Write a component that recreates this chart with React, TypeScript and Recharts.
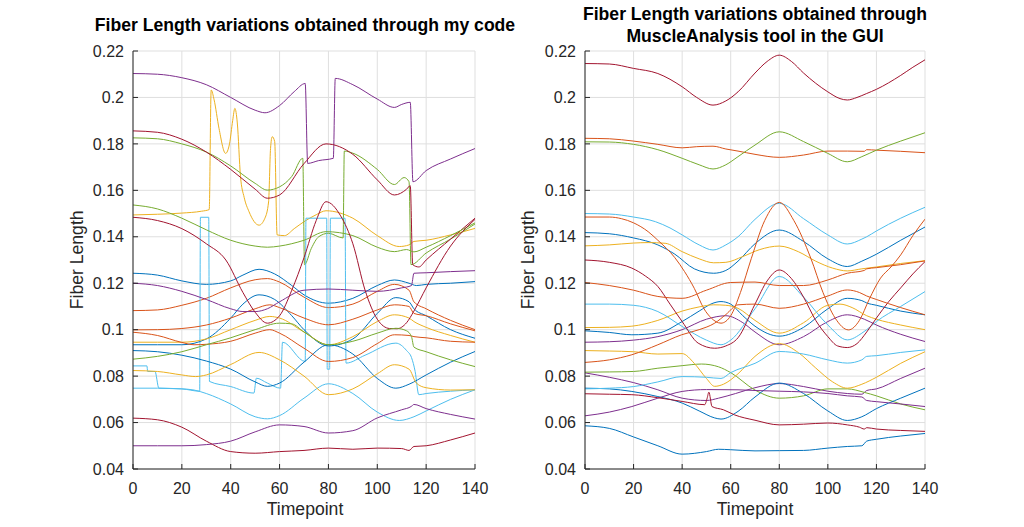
import React from 'react';
import { LineChart, Line, XAxis, YAxis, CartesianGrid } from 'recharts';

// MATLAB default line colours
const BLUE = '#0072BD';
const ORANGE = '#D95319';
const YELLOW = '#EDB120';
const PURPLE = '#7E2F8E';
const GREEN = '#77AC30';
const LBLUE = '#4DBEEE';
const DRED = '#A2142F';

const X_TICKS = [0, 20, 40, 60, 80, 100, 120, 140];
const Y_TICKS = [0.04, 0.06, 0.08, 0.1, 0.12, 0.14, 0.16, 0.18, 0.2, 0.22];

// ---- left panel: "my code"  ([timepoint, fiber length]) ----
const L_PURPLE_TOP = [[0, 0.2103], [10, 0.21], [20, 0.2085], [30, 0.2055], [40, 0.2], [50, 0.1945], [54, 0.1934], [60, 0.1965], [66, 0.2025], [70.5, 0.206], [71.5, 0.1716], [76, 0.1728], [82, 0.1738], [82.8, 0.2082], [90, 0.2055], [100, 0.1993], [107, 0.1957], [110, 0.197], [113.5, 0.1979], [114.6, 0.1637], [120, 0.1685], [130, 0.1735], [140, 0.178]];
const L_DRED_TOP = [[0, 0.1856], [10, 0.185], [20, 0.182], [30, 0.1765], [40, 0.169], [50, 0.1605], [55, 0.1566], [60, 0.158], [70, 0.1715], [79, 0.18], [90, 0.1755], [100, 0.1645], [107, 0.158], [112, 0.1605], [113.5, 0.162], [114.5, 0.128], [117, 0.127], [120, 0.13], [130, 0.139], [140, 0.148]];
const L_GREEN_TOP = [[0, 0.1826], [10, 0.1822], [20, 0.18], [30, 0.1765], [40, 0.1705], [50, 0.163], [55, 0.1601], [60, 0.1615], [65, 0.166], [69.5, 0.1738], [70.2, 0.128], [73, 0.135], [76, 0.14], [80, 0.1415], [86, 0.1395], [86.5, 0.1769], [90, 0.176], [100, 0.169], [107, 0.1625], [111, 0.1655], [113, 0.1637], [113.8, 0.128], [120, 0.133], [130, 0.139], [140, 0.1455]];
const L_GREEN_MID = [[0, 0.1537], [10, 0.152], [20, 0.148], [30, 0.143], [40, 0.1385], [50, 0.136], [55, 0.1355], [60, 0.136], [70, 0.1385], [79, 0.1422], [90, 0.1405], [100, 0.1355], [107, 0.1336], [112, 0.1345], [115, 0.1335], [120, 0.1355], [130, 0.1405], [140, 0.146]];
const L_YELLOW_SPIKE = [[0, 0.1494], [10, 0.1497], [20, 0.1502], [28, 0.151], [31.2, 0.1517], [32, 0.2032], [33.2, 0.199], [35.2, 0.1867], [37.9, 0.1759], [39.5, 0.18], [40.8, 0.19], [41.7, 0.1953], [42.7, 0.189], [44, 0.166], [45.5, 0.157], [47.5, 0.1508], [51.6, 0.145], [54, 0.148], [55.5, 0.155], [56.3, 0.178], [57, 0.1831], [58, 0.181], [59, 0.1408], [62, 0.1405], [66, 0.1435], [70, 0.1465], [75, 0.1495], [79, 0.1512], [90, 0.148], [100, 0.1405], [109, 0.1358], [113, 0.1365], [115, 0.138], [120, 0.1385], [130, 0.1408], [140, 0.1436]];
const L_DRED_W = [[0, 0.1484], [10, 0.147], [20, 0.1435], [30, 0.137], [38, 0.13], [45, 0.116], [50, 0.1075], [55, 0.1028], [60, 0.106], [65, 0.117], [70, 0.131], [75, 0.147], [79, 0.1551], [85, 0.149], [90, 0.137], [95, 0.117], [100, 0.1045], [105, 0.1005], [108, 0.1004], [112, 0.103], [115, 0.108], [120, 0.118], [130, 0.136], [140, 0.1475]];
const L_BLUE_A = [[0, 0.1243], [10, 0.1235], [20, 0.121], [30, 0.1195], [40, 0.121], [45, 0.1235], [51.6, 0.126], [58, 0.124], [65, 0.119], [70, 0.115], [80, 0.1114], [90, 0.1135], [100, 0.119], [107, 0.1214], [113, 0.12], [116, 0.119], [120, 0.1195], [130, 0.12], [140, 0.1207]];
const L_PURPLE_B = [[0, 0.12], [10, 0.119], [20, 0.1165], [30, 0.113], [40, 0.109], [45, 0.1078], [50, 0.1078], [55, 0.109], [60, 0.112], [70, 0.117], [80, 0.1175], [90, 0.117], [100, 0.1165], [110, 0.118], [114, 0.119], [115, 0.1243], [120, 0.1245], [130, 0.125], [140, 0.1254]];
const L_ORANGE_C = [[0, 0.1082], [10, 0.1085], [20, 0.1105], [30, 0.1135], [40, 0.118], [50, 0.1215], [55, 0.122], [60, 0.1205], [70, 0.114], [80, 0.1095], [90, 0.111], [100, 0.1165], [107, 0.1195], [113, 0.117], [115, 0.112], [120, 0.109], [130, 0.104], [140, 0.1]];
const L_ORANGE_D = [[0, 0.0999], [10, 0.1], [20, 0.1005], [30, 0.102], [40, 0.105], [50, 0.109], [56, 0.1107], [60, 0.1095], [70, 0.105], [80, 0.1021], [90, 0.1045], [100, 0.1085], [107, 0.1107], [113, 0.11], [115, 0.107], [120, 0.106], [130, 0.1025], [140, 0.0995]];
const L_ORANGE_E = [[0, 0.0989], [10, 0.0975], [20, 0.0945], [25, 0.0935], [30, 0.0937], [40, 0.095], [50, 0.0985], [56, 0.1], [60, 0.0985], [70, 0.092], [80, 0.0863], [90, 0.088], [100, 0.094], [107, 0.0978], [113, 0.0975], [115, 0.097], [120, 0.0965], [130, 0.095], [140, 0.0946]];
const L_YELLOW_F = [[0, 0.0946], [10, 0.0946], [20, 0.0946], [30, 0.096], [40, 0.1], [50, 0.104], [56, 0.1057], [60, 0.105], [70, 0.099], [80, 0.0935], [90, 0.097], [100, 0.1035], [107, 0.1064], [113, 0.105], [115, 0.1035], [120, 0.101], [130, 0.0975], [140, 0.0946]];
const L_BLUE_G = [[0, 0.0935], [10, 0.0935], [20, 0.0935], [30, 0.096], [40, 0.105], [45, 0.111], [51.6, 0.115], [58, 0.113], [65, 0.106], [70, 0.1], [80, 0.093], [90, 0.096], [100, 0.107], [107.6, 0.1138], [113, 0.112], [115, 0.109], [120, 0.106], [130, 0.1], [140, 0.0963]];
const L_BLUE_H = [[0, 0.091], [10, 0.0905], [20, 0.089], [30, 0.0865], [40, 0.083], [50, 0.0775], [55, 0.0756], [60, 0.077], [70, 0.086], [80, 0.0935], [90, 0.0895], [100, 0.079], [107.6, 0.0748], [113, 0.0765], [120, 0.0805], [130, 0.086], [140, 0.0906]];
const L_GREEN_I = [[0, 0.0873], [10, 0.0885], [20, 0.0905], [30, 0.0935], [40, 0.0965], [50, 0.1], [60, 0.1028], [65, 0.1025], [70, 0.099], [80, 0.0935], [90, 0.095], [100, 0.0985], [107.6, 0.1006], [112, 0.0995], [114, 0.097], [115, 0.0925], [120, 0.0905], [130, 0.087], [140, 0.0841]];
const L_YELLOW_K = [[0, 0.0824], [10, 0.082], [20, 0.0805], [25.6, 0.0798], [30, 0.0805], [40, 0.085], [51.6, 0.0902], [60, 0.087], [70, 0.08], [80, 0.072], [90, 0.0745], [100, 0.081], [107, 0.0849], [113, 0.083], [116, 0.077], [120, 0.075], [130, 0.074], [140, 0.0741]];
const L_LBLUE_STEP = [[0, 0.0844], [5.7, 0.0844], [6, 0.082], [9, 0.082], [10.6, 0.0748], [20, 0.0745], [27.3, 0.0735], [27.6, 0.1484], [31, 0.1484], [31.3, 0.0777], [40, 0.0755], [49.5, 0.0727], [50.5, 0.0791], [55, 0.077], [60.4, 0.0748], [61.2, 0.0946], [70.5, 0.0863], [70.8, 0.148], [79.3, 0.148], [79.5, 0.083], [80.5, 0.083], [80.8, 0.148], [86.8, 0.148], [87.2, 0.0856], [95, 0.089], [107.6, 0.0942], [112, 0.091], [114, 0.088], [115.5, 0.082], [117, 0.072], [120, 0.0725], [130, 0.0735], [140, 0.0741]];
const L_LBLUE_L = [[0, 0.0748], [10, 0.0748], [20, 0.0745], [25, 0.074], [30, 0.0725], [40, 0.068], [50, 0.0625], [55, 0.0616], [60, 0.063], [70, 0.0705], [80, 0.0767], [90, 0.0725], [100, 0.0645], [109, 0.0609], [115, 0.0625], [120, 0.065], [130, 0.07], [140, 0.0741]];
const L_PURPLE_N = [[0, 0.05], [10, 0.05], [20, 0.05], [30, 0.0505], [40, 0.052], [50, 0.056], [60, 0.059], [70, 0.0583], [80, 0.0555], [90, 0.0565], [100, 0.062], [110, 0.0655], [114, 0.067], [115, 0.0678], [120, 0.066], [130, 0.0635], [140, 0.0615]];
const L_DRED_M = [[0, 0.0619], [10, 0.0612], [20, 0.058], [30, 0.052], [40, 0.0475], [50, 0.0468], [60, 0.0475], [70, 0.048], [80, 0.049], [90, 0.0485], [100, 0.049], [110, 0.0488], [113, 0.048], [115, 0.0497], [120, 0.05], [130, 0.0525], [140, 0.0555]];

// ---- right panel: MuscleAnalysis tool ----
const R_DRED_TOP = [[0, 0.2146], [10, 0.2144], [20, 0.2125], [30, 0.2103], [40, 0.2046], [46, 0.2], [52.7, 0.1967], [58, 0.1985], [63, 0.2024], [70, 0.2105], [75, 0.2155], [80, 0.2182], [85, 0.2155], [90, 0.2105], [100, 0.2024], [105, 0.1995], [108, 0.1989], [112, 0.2], [116, 0.2017], [120, 0.2035], [130, 0.2095], [135, 0.213], [140, 0.2162]];
const R_ORANGE_TOP = [[0, 0.1824], [10, 0.1822], [20, 0.1812], [30, 0.1798], [40, 0.1783], [46, 0.1788], [52.7, 0.179], [58, 0.1778], [63, 0.1769], [70, 0.1755], [80, 0.1742], [90, 0.1752], [100, 0.1769], [108, 0.1769], [115, 0.1768], [116, 0.1775], [120, 0.1773], [130, 0.1768], [140, 0.1762]];
const R_GREEN_TOP = [[0, 0.1809], [10, 0.1808], [20, 0.1798], [30, 0.1775], [40, 0.1738], [47, 0.171], [52.7, 0.1692], [58, 0.171], [63, 0.1745], [70, 0.1795], [80, 0.1852], [90, 0.181], [100, 0.1759], [108, 0.1723], [114, 0.1745], [120, 0.1773], [130, 0.1812], [140, 0.1848]];
const R_LBLUE_TOP = [[0, 0.15], [10, 0.1498], [20, 0.1485], [29, 0.1465], [35, 0.1438], [40, 0.1408], [47, 0.1365], [52.7, 0.1343], [58, 0.1365], [63, 0.14], [70, 0.1475], [80, 0.1544], [90, 0.1478], [100, 0.1408], [108, 0.1369], [114, 0.139], [116, 0.14], [120, 0.1425], [130, 0.148], [140, 0.1527]];
const R_ORANGE_BIG = [[0, 0.1485], [10, 0.1485], [15, 0.1478], [20, 0.146], [26, 0.1422], [30, 0.1385], [37, 0.131], [41, 0.125], [45, 0.1178], [49, 0.109], [52, 0.105], [56, 0.1028], [60, 0.106], [64, 0.116], [68.5, 0.1307], [74, 0.147], [80, 0.1548], [86, 0.147], [93, 0.1307], [98, 0.116], [103, 0.105], [108.5, 0.0999], [113, 0.104], [117, 0.113], [121.7, 0.1222], [126, 0.127], [130, 0.1322], [135, 0.1405], [140, 0.1476]];
const R_BLUE_TOP = [[0, 0.1418], [10, 0.1413], [20, 0.1395], [30, 0.1365], [37, 0.1325], [45, 0.1262], [53, 0.1243], [58, 0.1255], [63, 0.1295], [70, 0.137], [80, 0.1429], [90, 0.138], [100, 0.1305], [108, 0.1272], [114, 0.1295], [120, 0.1325], [130, 0.1385], [140, 0.1442]];
const R_YELLOW_TOP = [[0, 0.1361], [10, 0.1365], [20, 0.1373], [26, 0.1375], [33, 0.1372], [40, 0.1336], [47, 0.1305], [53, 0.1288], [58, 0.129], [65, 0.1315], [72, 0.1345], [80, 0.136], [88, 0.1335], [95, 0.1295], [102, 0.1265], [108, 0.1253], [114, 0.1262], [120, 0.127], [130, 0.1285], [140, 0.1297]];
const R_DRED_MID = [[0, 0.13], [10, 0.129], [19.3, 0.1265], [25, 0.123], [30, 0.1186], [35, 0.111], [40, 0.1035], [46.6, 0.0942], [53.4, 0.092], [58, 0.093], [63, 0.0965], [70, 0.111], [75, 0.121], [80, 0.1257], [85, 0.122], [90, 0.114], [95, 0.104], [100, 0.097], [104, 0.093], [108, 0.0923], [112, 0.094], [116, 0.099], [120, 0.105], [125, 0.112], [130, 0.118], [135, 0.124], [140, 0.1293]];
const R_ORANGE_MID = [[0, 0.1203], [10, 0.119], [20, 0.117], [30, 0.1143], [40, 0.1135], [50, 0.117], [60, 0.1203], [70, 0.1205], [80, 0.119], [90, 0.119], [100, 0.1214], [108, 0.1243], [115, 0.1255], [116, 0.1262], [120, 0.1267], [130, 0.128], [140, 0.1296]];
const R_LBLUE_MID = [[0, 0.111], [10, 0.111], [20, 0.1105], [30, 0.1078], [40, 0.1014], [50, 0.0955], [56, 0.0935], [60, 0.0955], [70, 0.109], [80, 0.1229], [90, 0.114], [100, 0.102], [108, 0.0956], [114, 0.0985], [116, 0.1], [120, 0.1035], [130, 0.11], [140, 0.1164]];
const R_YELLOW_MID = [[0, 0.1009], [10, 0.101], [19.3, 0.1015], [30, 0.104], [40, 0.108], [47, 0.1098], [53, 0.1107], [58, 0.1105], [63, 0.1092], [70, 0.104], [80, 0.0985], [90, 0.103], [100, 0.1105], [105, 0.111], [110, 0.1095], [116, 0.106], [120, 0.1045], [130, 0.102], [140, 0.1]];
const R_ORANGE_LOW = [[0, 0.0859], [10, 0.087], [19.3, 0.0892], [30, 0.0935], [39.8, 0.0978], [47, 0.1], [53.4, 0.1028], [58, 0.1065], [63, 0.1107], [70, 0.111], [80, 0.1092], [90, 0.111], [100, 0.1145], [108, 0.1171], [113, 0.116], [116, 0.1145], [120, 0.113], [130, 0.1095], [140, 0.1064]];
const R_BLUE_MID = [[0, 0.0995], [10, 0.0988], [19.3, 0.0978], [30, 0.0985], [40, 0.1035], [47, 0.108], [52.7, 0.1114], [56, 0.1121], [60, 0.111], [65, 0.106], [70, 0.1015], [80, 0.0972], [90, 0.101], [100, 0.109], [108, 0.1135], [114, 0.1125], [116, 0.1115], [120, 0.1105], [130, 0.108], [140, 0.1064]];
const R_PURPLE_MID = [[0, 0.0946], [10, 0.0948], [20, 0.0955], [30, 0.097], [40, 0.1], [50, 0.1045], [58, 0.106], [65, 0.103], [70, 0.099], [80, 0.0935], [90, 0.097], [100, 0.1035], [108, 0.1064], [115, 0.1045], [120, 0.102], [130, 0.098], [140, 0.0949]];
const R_YELLOW_LOW = [[0, 0.091], [10, 0.0908], [20, 0.0905], [30, 0.0895], [40, 0.0897], [45, 0.0855], [50, 0.079], [53.4, 0.0756], [57, 0.0765], [63, 0.081], [70, 0.0885], [80, 0.094], [88, 0.09], [95, 0.0835], [102, 0.0775], [108, 0.0748], [114, 0.0765], [120, 0.0795], [130, 0.0855], [140, 0.0905]];
const R_GREEN_LOW = [[0, 0.0817], [10, 0.0818], [20, 0.082], [30, 0.0834], [40, 0.0845], [48, 0.0852], [55, 0.084], [60, 0.0815], [70, 0.074], [80, 0.0705], [90, 0.0715], [100, 0.0745], [108, 0.0745], [115, 0.073], [120, 0.0715], [130, 0.068], [140, 0.0655]];
const R_PURPLE_LOW = [[0, 0.0814], [10, 0.0795], [20, 0.0772], [30, 0.0741], [40, 0.0705], [50, 0.0695], [55, 0.0705], [62, 0.0725], [70, 0.075], [80, 0.0768], [90, 0.0755], [100, 0.0735], [108, 0.0725], [114, 0.0722], [116, 0.0738], [120, 0.0745], [130, 0.079], [140, 0.0834]];
const R_LBLUE_LOW = [[0, 0.0745], [10, 0.0748], [20, 0.0755], [30, 0.0775], [40, 0.0798], [50, 0.0795], [56, 0.079], [60, 0.0815], [70, 0.0855], [80, 0.0906], [90, 0.0895], [100, 0.087], [108, 0.0856], [114, 0.087], [116, 0.0885], [120, 0.0888], [130, 0.0902], [140, 0.0913]];
const R_BLUE_LOW = [[0, 0.0748], [10, 0.0745], [19.3, 0.0734], [30, 0.0712], [40, 0.0684], [47, 0.065], [53.4, 0.062], [56, 0.0615], [63, 0.0648], [70, 0.071], [80, 0.077], [90, 0.0725], [100, 0.065], [108, 0.0609], [114, 0.0625], [120, 0.066], [130, 0.0705], [140, 0.0748]];
const R_DRED_SPIKE = [[0, 0.0724], [10, 0.0722], [19.3, 0.072], [30, 0.0707], [40, 0.0691], [49.3, 0.0677], [50.3, 0.0705], [51, 0.0731], [52.3, 0.0669], [57, 0.0655], [61.6, 0.0633], [70, 0.061], [80, 0.059], [90, 0.0593], [100, 0.0598], [108, 0.059], [113, 0.058], [115, 0.0572], [116, 0.0578], [120, 0.0572], [130, 0.0566], [140, 0.0562]];
const R_PURPLE_BOT = [[0, 0.0629], [10, 0.0645], [19.3, 0.0669], [30, 0.0705], [40, 0.0734], [50, 0.0742], [63, 0.0741], [70, 0.0738], [80, 0.0735], [90, 0.0732], [100, 0.0725], [108, 0.0715], [114, 0.071], [116, 0.0695], [120, 0.069], [130, 0.068], [140, 0.0669]];
const R_BLUE_BOT = [[0, 0.0586], [10, 0.0575], [20, 0.0538], [30, 0.05], [40, 0.0464], [50, 0.0475], [55, 0.0485], [60, 0.0483], [70, 0.0478], [80, 0.0479], [90, 0.048], [100, 0.049], [108, 0.0497], [114, 0.05], [116, 0.052], [120, 0.0528], [130, 0.0542], [140, 0.0553]];

const LEFT = [
  { d: L_BLUE_A, c: BLUE }, { d: L_ORANGE_C, c: ORANGE }, { d: L_YELLOW_SPIKE, c: YELLOW },
  { d: L_PURPLE_TOP, c: PURPLE }, { d: L_GREEN_TOP, c: GREEN }, { d: L_LBLUE_STEP, c: LBLUE },
  { d: L_DRED_TOP, c: DRED }, { d: L_BLUE_G, c: BLUE }, { d: L_ORANGE_D, c: ORANGE },
  { d: L_YELLOW_F, c: YELLOW }, { d: L_PURPLE_B, c: PURPLE }, { d: L_GREEN_MID, c: GREEN },
  { d: L_LBLUE_L, c: LBLUE }, { d: L_DRED_W, c: DRED }, { d: L_BLUE_H, c: BLUE },
  { d: L_ORANGE_E, c: ORANGE }, { d: L_YELLOW_K, c: YELLOW }, { d: L_PURPLE_N, c: PURPLE },
  { d: L_GREEN_I, c: GREEN }, { d: L_DRED_M, c: DRED },
];

const RIGHT = [
  { d: R_BLUE_TOP, c: BLUE }, { d: R_ORANGE_TOP, c: ORANGE }, { d: R_YELLOW_TOP, c: YELLOW },
  { d: R_PURPLE_MID, c: PURPLE }, { d: R_GREEN_TOP, c: GREEN }, { d: R_LBLUE_TOP, c: LBLUE },
  { d: R_DRED_TOP, c: DRED }, { d: R_BLUE_MID, c: BLUE }, { d: R_ORANGE_BIG, c: ORANGE },
  { d: R_YELLOW_MID, c: YELLOW }, { d: R_PURPLE_LOW, c: PURPLE }, { d: R_GREEN_LOW, c: GREEN },
  { d: R_LBLUE_MID, c: LBLUE }, { d: R_DRED_MID, c: DRED }, { d: R_BLUE_LOW, c: BLUE },
  { d: R_ORANGE_MID, c: ORANGE }, { d: R_YELLOW_LOW, c: YELLOW }, { d: R_PURPLE_BOT, c: PURPLE },
  { d: R_LBLUE_LOW, c: LBLUE }, { d: R_DRED_SPIKE, c: DRED }, { d: R_BLUE_BOT, c: BLUE },
  { d: R_ORANGE_LOW, c: ORANGE },
];

const FONT = '"Liberation Sans", Arial, Helvetica, sans-serif';
const INK = '#262626';
const tickStyle = { fill: INK, fontSize: 16, fontFamily: FONT };
const fmtY = (v: number) => String(Number(v.toFixed(2)));
const blank = () => '';

const Panel = ({ series, width, yWidth }: { series: { d: number[][]; c: string }[]; width: number; yWidth: number }) => (
  <LineChart width={width} height={527} margin={{ top: 51, right: 25, bottom: 0, left: 0 }}>
    <CartesianGrid xAxisId="b" yAxisId="l" stroke="#dfdfdf" strokeWidth={1} />
    <XAxis xAxisId="b" dataKey="t" type="number" domain={[0, 140]} ticks={X_TICKS} height={58}
      tickSize={-5} tickMargin={19} stroke={INK} tick={tickStyle} allowDataOverflow />
    <XAxis xAxisId="top" orientation="top" dataKey="t" type="number" domain={[0, 140]} ticks={X_TICKS}
      height={0} tickSize={-5} stroke={INK} tickFormatter={blank} />
    <YAxis yAxisId="l" type="number" domain={[0.04, 0.22]} ticks={Y_TICKS} width={yWidth}
      tickSize={-5} tickMargin={14} stroke={INK} tick={tickStyle} tickFormatter={fmtY} allowDataOverflow />
    <YAxis yAxisId="r" orientation="right" type="number" domain={[0.04, 0.22]} ticks={Y_TICKS}
      width={0} tickSize={-5} stroke={INK} tickFormatter={blank} />
    {series.map((s, i) => (
      <Line key={i} xAxisId="b" yAxisId="l" data={s.d.map(([t, v]) => ({ t, v }))} dataKey="v"
        type="monotone" stroke={s.c} strokeWidth={1} dot={false} activeDot={false} isAnimationActive={false} />
    ))}
  </LineChart>
);

const txt: React.CSSProperties = { position: 'absolute', fontFamily: FONT, color: INK, fontSize: 17.6, lineHeight: '21.6px', whiteSpace: 'nowrap', textAlign: 'center' };

export default function App() {
  return (
    <div style={{ position: 'absolute', left: 0, top: 0, width: 1024, height: 527, background: '#fff', overflow: 'hidden' }}>
      <div style={{ position: 'absolute', left: 0, top: 0 }}>
        <Panel series={LEFT} width={500} yWidth={133} />
      </div>
      <div style={{ position: 'absolute', left: 500, top: 0 }}>
        <Panel series={RIGHT} width={450} yWidth={85} />
      </div>
      <div style={{ ...txt, fontWeight: 'bold', color: '#000', left: 55, width: 500, top: 15 }}>
        Fiber Length variations obtained through my code
      </div>
      <div style={{ ...txt, fontWeight: 'bold', color: '#000', left: 505, width: 500, top: 4 }}>
        Fiber Length variations obtained through<br />MuscleAnalysis tool in the GUI
      </div>
      <div style={{ ...txt, left: 205, width: 200, top: 499 }}>Timepoint</div>
      <div style={{ ...txt, left: 655, width: 200, top: 499 }}>Timepoint</div>
      <div style={{ ...txt, left: -22, width: 200, top: 249, transform: 'rotate(-90deg)' }}>Fiber Length</div>
      <div style={{ ...txt, left: 429, width: 200, top: 249, transform: 'rotate(-90deg)' }}>Fiber Length</div>
    </div>
  );
}
